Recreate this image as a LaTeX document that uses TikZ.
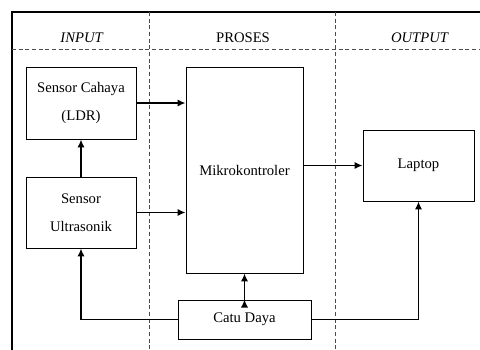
\documentclass[tikz,border=0pt]{standalone}
\usepackage{fontspec}
\setmainfont{Liberation Serif}
\usetikzlibrary{arrows}
\usetikzlibrary{arrows.meta}
\usetikzlibrary{calc}
\usetikzlibrary{positioning}

\begin{document}
\begin{tikzpicture}[x=0.75pt,y=-0.75pt,
    block/.style={draw,line width=0.7pt,align=center,inner sep=0pt,
      font=\fontsize{11}{21}\selectfont},
    head/.style={font=\fontsize{11}{13}\selectfont},
    lane/.style={draw=black!70,line width=0.6pt,dash pattern=on 3pt off 2pt},
    flow/.style={draw,line width=1.4pt,-{Latex[length=6pt,width=5.5pt]}}]

  \useasboundingbox (0,0) rectangle (480,350);

  % frame and lanes
  \draw [line width=1.2pt] (12,350) -- (12,12) -- (480,12);
  \draw [lane] (12,49) -- (480,49);
  \draw [lane] (149,12) -- (149,350);
  \draw [lane] (335,12) -- (335,350);

  \node [head] (in_head)   at (82,38)  {\textit{INPUT}};
  \node [head] (proc_head) at (243,38) {PROSES};
  \node [head] (out_head)  at (420,38) {\textit{OUTPUT}};

  \node [block,minimum width=82.5pt,minimum height=54pt] (cahaya) at (81,103)
    {Sensor Cahaya\\(LDR)};
  \node [block,minimum width=82.5pt,minimum height=53.25pt] (ultra) at (81,212.5)
    {Sensor\\Ultrasonik};
  \node [block,minimum width=87.75pt,minimum height=154.5pt] (mikro) at (244.5,170)
    {Mikrokontroler};
  \node [block,minimum width=83.25pt,minimum height=53.25pt] (laptop) at (418.5,165.5)
    {Laptop};
  \node [block,minimum width=99.75pt,minimum height=29.25pt] (catu) at (244.5,319.5)
    {Catu Daya};

  \path [flow]
    (cahaya.east)          edge (cahaya.east -| mikro.west)
    (ultra.north)          edge (cahaya.south)
    (ultra.east)           edge (ultra.east -| mikro.west)
    (mikro.east |- laptop) edge (laptop.west)
    (catu.north)           edge (mikro.south);
  \draw [flow] (catu.west) -| (ultra.south);
  \draw [flow] (catu.east) -| (laptop.south);
\end{tikzpicture}
\end{document}
